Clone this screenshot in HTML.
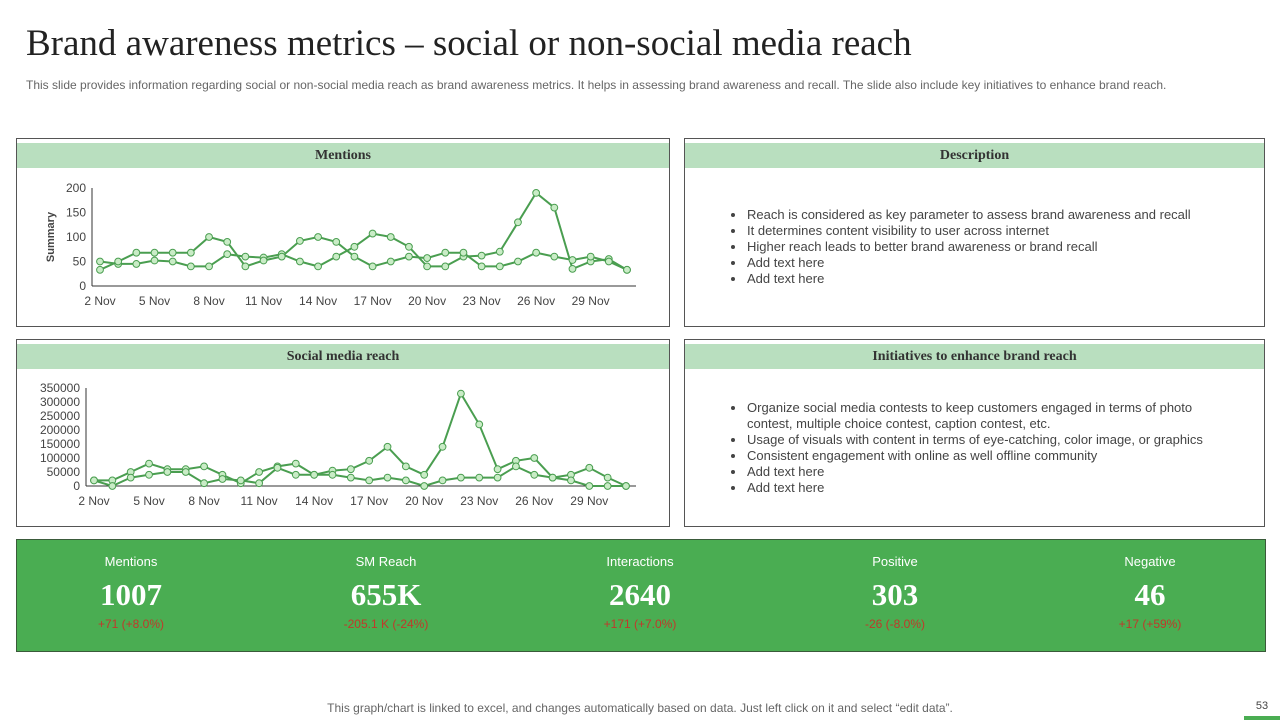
<!DOCTYPE html>
<html><head><meta charset="utf-8">
<style>
body{margin:0;width:1280px;height:720px;background:#fff;position:relative;overflow:hidden;font-family:"Liberation Sans",sans-serif}
.abs{position:absolute}
.title{left:26px;top:22px;font-family:"Liberation Serif",serif;font-size:37px;color:#222}
.sub{left:26px;top:78px;font-size:12px;color:#666;white-space:nowrap}
.panel{position:absolute;border:1px solid #555;background:#fff}
.hdr{position:absolute;left:0;right:0;top:4px;height:25px;background:#b9dfbf;font-family:"Liberation Serif",serif;font-weight:bold;font-size:14px;color:#333;text-align:center;line-height:25px}
ul{position:absolute;margin:0;padding-left:18px;font-size:13px;color:#444;line-height:16px}
li{padding-left:1px}
.kpi{left:16px;top:539px;width:1248px;height:111px;background:#4aad52;border:1px solid #3a5a3a}
.k{position:absolute;top:0;width:240px;text-align:center;color:#fff}
.k .l{margin-top:14px;font-size:13px}
.k .v{font-family:"Liberation Serif",serif;font-weight:bold;font-size:31px;margin-top:8px;height:36px}
.k .c{font-size:12px;color:#c0392b;margin-top:4px}
.foot{left:0;width:1280px;top:701px;text-align:center;font-size:12px;color:#666}
</style></head><body>
<div class="abs title">Brand awareness metrics – social or non-social media reach</div>
<div class="abs sub">This slide provides information regarding social or non-social media reach as brand awareness metrics. It helps in assessing brand awareness and recall. The slide also include key initiatives to enhance brand reach.</div>

<div class="panel" style="left:16px;top:138px;width:652px;height:187px">
<div class="hdr">Mentions</div>
</div>
<div class="panel" style="left:684px;top:138px;width:579px;height:187px">
<div class="hdr">Description</div>
<ul style="left:43px;top:68px">
<li>Reach is considered as key parameter to assess brand awareness and recall</li>
<li>It determines content visibility to user across internet</li>
<li>Higher reach leads to better brand awareness or brand recall</li>
<li>Add text here</li>
<li>Add text here</li>
</ul></div>
<div class="panel" style="left:16px;top:339px;width:652px;height:186px">
<div class="hdr">Social media reach</div>
</div>
<div class="panel" style="left:684px;top:339px;width:579px;height:186px">
<div class="hdr">Initiatives to enhance brand reach</div>
<ul style="left:43px;top:60px;width:470px">
<li>Organize social media contests to keep customers engaged in terms of photo contest, multiple choice contest, caption contest, etc.</li>
<li>Usage of visuals with content in terms of eye-catching, color image, or graphics</li>
<li>Consistent engagement with online as well offline community</li>
<li>Add text here</li>
<li>Add text here</li>
</ul></div>

<svg id="chart" class="abs" style="left:0;top:0" width="1280" height="720"></svg>

<div class="abs kpi">
<div class="k" style="left:-6px"><div class="l">Mentions</div><div class="v">1007</div><div class="c">+71 (+8.0%)</div></div>
<div class="k" style="left:249px"><div class="l">SM Reach</div><div class="v">655K</div><div class="c">-205.1 K (-24%)</div></div>
<div class="k" style="left:503px"><div class="l">Interactions</div><div class="v">2640</div><div class="c">+171 (+7.0%)</div></div>
<div class="k" style="left:758px"><div class="l">Positive</div><div class="v">303</div><div class="c">-26 (-8.0%)</div></div>
<div class="k" style="left:1013px"><div class="l">Negative</div><div class="v">46</div><div class="c">+17 (+59%)</div></div>
</div>
<div class="abs foot">This graph/chart is linked to excel, and changes automatically based on data. Just left click on it and select “edit data”.</div>
<div class="abs" style="left:1244px;top:700px;width:36px;text-align:center;font-size:11px;color:#444">53</div>
<div class="abs" style="left:1244px;top:716px;width:36px;height:4px;background:#4aad52"></div>

<script>
const xLabels=["2 Nov","5 Nov","8 Nov","11 Nov","14 Nov","17 Nov","20 Nov","23 Nov","26 Nov","29 Nov"];
const mentionsA=[50,45,45,52,50,40,40,65,60,58,65,50,40,60,80,107,100,80,40,40,60,62,70,130,190,160,35,50,55,33];
const mentionsB=[33,50,68,68,68,68,100,90,40,52,60,92,100,90,60,40,50,60,57,68,68,40,40,50,68,60,53,60,50,33];
const mentionsTicks=[0,50,100,150,200];
const reachA=[20000,20000,50000,80000,60000,60000,70000,40000,10000,50000,70000,80000,40000,55000,60000,90000,140000,70000,40000,140000,330000,220000,60000,90000,100000,30000,40000,65000,30000,0];
const reachB=[20000,0,30000,40000,50000,50000,10000,25000,20000,10000,65000,40000,40000,40000,30000,20000,30000,20000,0,20000,30000,30000,30000,70000,40000,30000,20000,0,0,0];
const reachTicks=[0,50000,100000,150000,200000,250000,300000,350000];

const svg=document.getElementById('chart');
const NS='http://www.w3.org/2000/svg';
function mk(t,a,p){const e=document.createElementNS(NS,t);for(const k in a)e.setAttribute(k,a[k]);(p||svg).appendChild(e);return e;}

function drawChart(name,x0,x1,axisL,axisR,y0,yTop,maxV,ticks,series,labelY){
  const g=mk('g',{});
  
  
  const n=series[0].length;
  const xs=i=>x0+(x1-x0)*i/(n-1);
  const ys=v=>y0-(y0-yTop)*v/maxV;
  const ax=mk('line',{x1:axisL,y1:y0,x2:axisR,y2:y0,stroke:'#333','stroke-width':1},g);
  
  
  const ay=mk('line',{x1:axisL,y1:ys(ticks[ticks.length-1]),x2:axisL,y2:y0,stroke:'#333','stroke-width':1},g);
  
  
  ticks.forEach(t=>{
    const tx=mk('text',{x:axisL-6,y:ys(t)+4,'text-anchor':'end','font-size':12,fill:'#444','font-family':'Liberation Sans'},g);
    tx.textContent=t;
    
    
  });
  xLabels.forEach((l,i)=>{
    const tx=mk('text',{x:xs(i*3),y:labelY,'text-anchor':'middle','font-size':12,fill:'#444','font-family':'Liberation Sans'},g);
    tx.textContent=l;
    
    
  });
  series.forEach((s,si)=>{
    const pts=s.map((v,i)=>xs(i).toFixed(1)+','+ys(v).toFixed(1)).join(' ');
    const pl=mk('polyline',{points:pts,fill:'none',stroke:'#4a9e50','stroke-width':2},g);
    
    
  });
  series.forEach((s,si)=>{
    s.forEach((v,i)=>{
      const c=mk('circle',{cx:xs(i),cy:ys(v),r:3.4,fill:'#c9ecc6',stroke:'#4a9e50','stroke-width':1},g);
      
      
    });
  });
}
drawChart('mentions-chart',100,627,92,636,286,188,200,mentionsTicks,[mentionsA,mentionsB],305);
drawChart('social-reach-chart',94,626,86,636,486,388,350000,reachTicks,[reachA,reachB],505);
const yt=mk('text',{x:0,y:0,transform:'translate(54,237) rotate(-90)','text-anchor':'middle','font-size':11,'font-weight':'bold',fill:'#444','font-family':'Liberation Sans'});
yt.textContent='Summary';


</script>
</body></html>
